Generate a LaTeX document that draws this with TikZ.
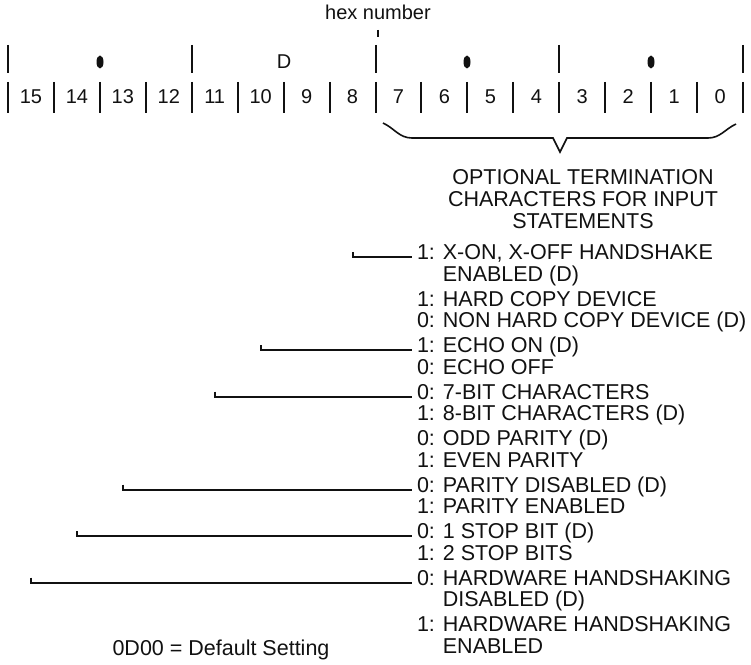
\documentclass[tikz,border=0pt]{standalone}
\usepackage{fontspec}
\setmainfont{Liberation Sans}
\usepackage{tikz}
\usetikzlibrary{calc, shapes.geometric}
\definecolor{InkBlack}{HTML}{111111}

\begin{document}
\begin{tikzpicture}[x=1bp, y=-1bp, line width=2bp, color=InkBlack,
    every node/.style={font=\fontsize{21.5bp}{22bp}\selectfont, inner sep=0pt},
    ruler/.style={font=\fontsize{20bp}{22bp}\selectfont},
    setting/.style={anchor=mid west, inner sep=4bp},
    leader/.style={line width=2bp},
    hexdot/.style={ellipse, fill, minimum width=7bp, minimum height=13bp}]
\useasboundingbox (0,0) rectangle (751,665);

% ruler with bit numbers
\node[ruler] (hex) at (378,12) {hex number};
\draw (378,30) -- (378,37);
\foreach \i in {0,4,8,12,16}
    \draw ({8+45.94*\i},45) -- ({8+45.94*\i},73);
\foreach \i in {0,...,16}
    \draw ({8+45.94*\i},82) -- ({8+45.94*\i},113);
\foreach \b in {0,...,15}
    \node[ruler] (b\b) at ({8+45.94*(15.5-\b)},97) {\b};

% hex digits
\node[hexdot] (h3) at (100,62) {};
\node[ruler] (h2) at (284,62) {D};
\node[hexdot] (h1) at (467,62) {};
\node[hexdot] (h0) at (651,62) {};

% brace over bits 7-0
\draw[line width=1.6bp] (383,123) to[out=-25, in=180] (412,138) -- (553,138) -- (560,152) -- (567,138) -- (708,138) to[out=0, in=-155] (736,124);
\node[align=center] (opt) at (583,199) {OPTIONAL TERMINATION\\CHARACTERS FOR INPUT\\STATEMENTS};

% settings
\node[setting] (xon) at (412,257) {1: X-ON, X-OFF HANDSHAKE};
\node[setting] (xonb) at (412,278.5) {\phantom{1: }ENABLED (D)};
\node[setting] (hcd) at (412,303.5) {1: HARD COPY DEVICE};
\node[setting] (nhcd) at (412,325) {0: NON HARD COPY DEVICE (D)};
\node[setting] (echo) at (412,350) {1: ECHO ON (D)};
\node[setting] (noecho) at (412,371.5) {0: ECHO OFF};
\node[setting] (bit7) at (412,396.5) {0: 7-BIT CHARACTERS};
\node[setting] (bit8) at (412,418) {1: 8-BIT CHARACTERS (D)};
\node[setting] (odd) at (412,443) {0: ODD PARITY (D)};
\node[setting] (even) at (412,464.5) {1: EVEN PARITY};
\node[setting] (pdis) at (412,489.5) {0: PARITY DISABLED (D)};
\node[setting] (pen) at (412,511) {1: PARITY ENABLED};
\node[setting] (stop1) at (412,536) {0: 1 STOP BIT (D)};
\node[setting] (stop2) at (412,557.5) {1: 2 STOP BITS};
\node[setting] (hwdis) at (412,582.5) {0: HARDWARE HANDSHAKING};
\node[setting] (hwdisb) at (412,604) {\phantom{0: }DISABLED (D)};
\node[setting] (hwen) at (412,629) {1: HARDWARE HANDSHAKING};
\node[setting] (hwenb) at (412,650.5) {\phantom{1: }ENABLED};

% leaders from the bits
\draw[leader] ($(b8 |- xon.mid west)+(0,-5)$) -- (b8 |- xon.mid west) -- (xon.mid west);
\draw[leader] ($(b10 |- echo.mid west)+(0,-5)$) -- (b10 |- echo.mid west) -- (echo.mid west);
\draw[leader] ($(b11 |- bit7.mid west)+(0,-5)$) -- (b11 |- bit7.mid west) -- (bit7.mid west);
\draw[leader] ($(b13 |- pdis.mid west)+(0,-5)$) -- (b13 |- pdis.mid west) -- (pdis.mid west);
\draw[leader] ($(b14 |- stop1.mid west)+(0,-5)$) -- (b14 |- stop1.mid west) -- (stop1.mid west);
\draw[leader] ($(b15 |- hwdis.mid west)+(0,-5)$) -- (b15 |- hwdis.mid west) -- (hwdis.mid west);

\node (dflt) at (221,650) {0D00 = Default Setting};
\end{tikzpicture}
\end{document}
